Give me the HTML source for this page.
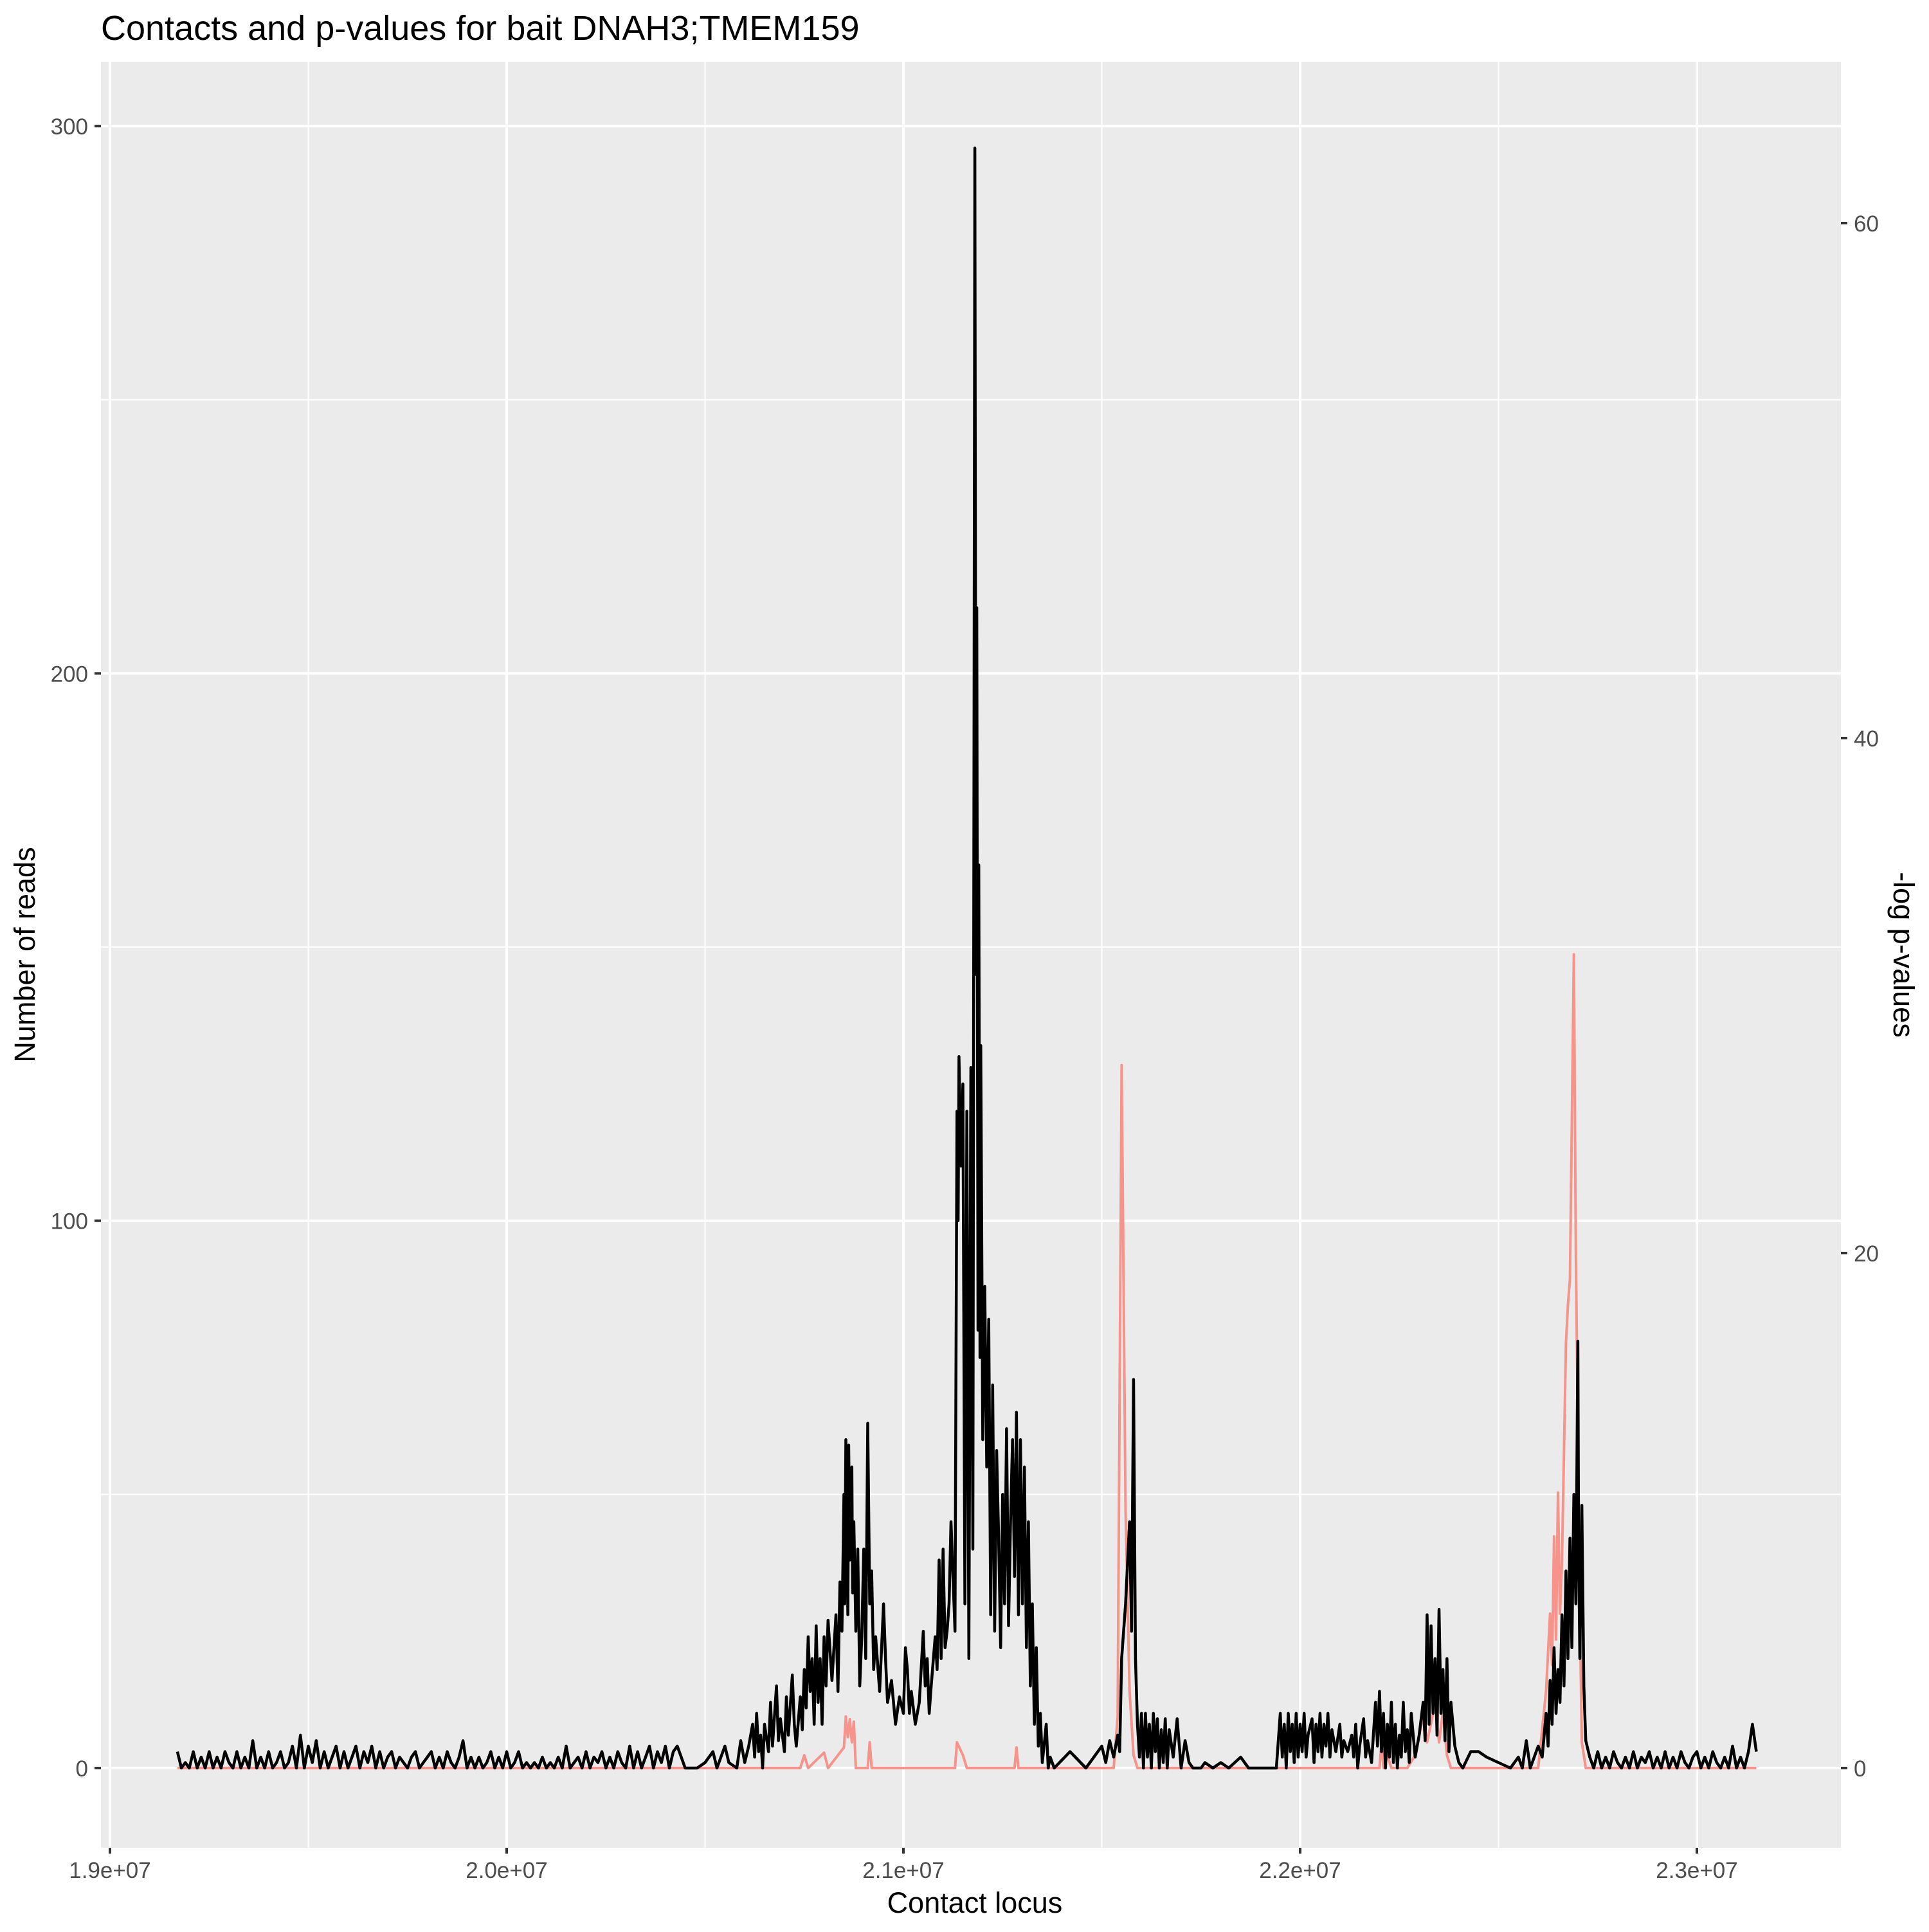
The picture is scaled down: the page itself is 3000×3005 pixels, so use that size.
<!DOCTYPE html>
<html><head><meta charset="utf-8"><style>
body{margin:0;background:#fff}
svg text{font-family:"Liberation Sans",sans-serif}
</style></head><body>
<svg id="chart" xmlns="http://www.w3.org/2000/svg" width="3000" height="3000" viewBox="0 0 3000 3000">
<rect width="3000" height="3000" fill="#fff"/>
<rect x="157" y="96" width="2706" height="2778" fill="#ebebeb"/>
<g id="grid"></g>
<g id="series"></g>
<g id="axes"></g>
<text x="157" y="62" font-size="54" fill="#000">Contacts and p-values for bait DNAH3;TMEM159</text>
<text x="1516" y="2975" font-size="45" text-anchor="middle" fill="#000">Contact locus</text>
<text transform="translate(54,1485) rotate(-90)" font-size="45" text-anchor="middle" fill="#000">Number of reads</text>
<text transform="translate(2945,1485) rotate(90)" font-size="45" text-anchor="middle" fill="#000">-log p-values</text>
</svg>
<script>
const xTicks=[19,20,21,22,23];
const xTickLabels=["1.9e+07","2.0e+07","2.1e+07","2.2e+07","2.3e+07"];
const yTicks=[0,100,200,300];
const y2Ticks=[0,20,40,60];
const readLoci=[19.17,19.18,19.19,19.20,19.21,19.22,19.23,19.24,19.25,19.26,19.27,19.28,19.29,19.30,19.31,19.32,19.33,19.34,19.35,19.36,19.37,19.38,19.39,19.40,19.41,19.42,19.43,19.44,19.45,19.46,19.47,19.48,19.49,19.50,19.51,19.52,19.53,19.54,19.55,19.56,19.57,19.58,19.59,19.60,19.61,19.62,19.63,19.64,19.65,19.66,19.67,19.68,19.69,19.70,19.71,19.72,19.73,19.74,19.75,19.76,19.77,19.78,19.79,19.80,19.81,19.82,19.83,19.84,19.85,19.86,19.87,19.88,19.89,19.90,19.91,19.92,19.93,19.94,19.95,19.96,19.97,19.98,19.99,20.00,20.01,20.02,20.03,20.04,20.05,20.06,20.07,20.08,20.09,20.10,20.11,20.12,20.13,20.14,20.15,20.16,20.17,20.18,20.19,20.20,20.21,20.22,20.23,20.24,20.25,20.26,20.27,20.28,20.29,20.30,20.31,20.32,20.33,20.34,20.35,20.36,20.37,20.38,20.39,20.40,20.41,20.42,20.43,20.44,20.45,
20.48,20.50,20.52,20.53,20.55,20.56,20.58,20.59,20.60,20.61,20.62,20.625,20.63,20.635,20.64,20.645,20.65,20.66,20.665,20.67,20.68,20.685,20.69,20.70,20.705,20.71,20.72,20.725,20.73,20.74,20.745,20.75,20.755,20.76,20.765,20.77,20.775,20.78,20.785,20.79,20.795,20.80,20.805,20.81,20.82,20.83,20.835,20.84,20.845,20.85,20.852,20.855,20.86,20.862,20.865,20.87,20.872,20.875,20.88,20.885,20.89,20.895,20.90,20.905,20.91,20.915,20.92,20.925,20.93,20.94,20.95,20.955,20.96,20.97,20.98,20.99,21.00,21.005,21.01,21.015,21.02,21.03,21.04,21.05,21.055,21.06,21.065,21.07,21.08,21.085,21.09,21.095,21.10,21.105,21.11,21.115,21.12,21.125,21.13,21.135,21.138,21.14,21.145,21.15,21.155,21.16,21.165,21.17,21.175,21.18,21.183,21.185,21.188,21.19,21.193,21.195,21.20,21.205,21.21,21.215,21.22,21.225,21.23,21.235,21.24,21.245,21.25,21.255,21.26,21.265,21.27,21.275,21.28,21.285,21.29,21.295,21.30,21.305,21.31,21.315,21.32,21.325,21.33,21.335,21.34,21.345,21.35,21.36,21.365,21.37,21.38,21.42,21.46,21.48,21.50,21.51,21.52,21.53,21.54,21.545,21.55,21.56,21.57,21.575,21.58,21.585,21.59,21.595,21.60,21.605,21.61,21.615,21.62,21.625,21.63,21.635,21.64,21.645,21.65,21.655,21.66,21.665,21.67,21.68,21.69,21.70,21.71,21.72,21.73,21.75,21.76,21.78,21.80,21.82,21.85,21.87,21.90,21.94,
21.95,21.955,21.96,21.965,21.97,21.975,21.98,21.985,21.99,21.995,22.00,22.005,22.01,22.015,22.02,22.03,22.035,22.04,22.045,22.05,22.055,22.06,22.065,22.07,22.075,22.08,22.09,22.10,22.105,22.11,22.12,22.13,22.135,22.14,22.145,22.15,22.16,22.165,22.17,22.18,22.19,22.195,22.20,22.205,22.21,22.215,22.22,22.225,22.23,22.235,22.24,22.245,22.25,22.255,22.26,22.265,22.27,22.275,22.28,22.29,22.30,22.31,22.315,22.32,22.325,22.33,22.335,22.34,22.345,22.35,22.355,22.36,22.365,22.37,22.375,22.38,22.39,22.40,22.41,22.43,22.45,22.47,22.50,22.53,22.55,22.56,22.57,22.58,22.60,22.61,22.62,22.625,22.63,22.635,22.64,22.645,22.65,22.655,22.66,22.665,22.67,22.675,22.68,22.685,22.69,22.695,22.70,22.702,22.705,22.71,22.715,22.72,22.73,22.74,
22.75,22.76,22.77,22.78,22.79,22.80,22.81,22.82,22.83,22.84,22.85,22.86,22.87,22.88,22.89,22.90,22.91,22.92,22.93,22.94,22.95,22.96,22.97,22.98,22.99,23.00,23.01,23.02,23.03,23.04,23.05,23.06,23.07,23.08,23.09,23.10,23.11,23.12,23.13,23.14,23.15];
const readCounts=[3,0,1,0,3,0,2,0,3,0,2,0,3,1,0,3,0,2,0,5,0,2,0,3,0,1,3,0,1,4,0,6,0,4,1,5,0,3,0,2,4,0,3,0,2,4,0,3,1,4,0,3,0,2,3,0,2,1,0,2,3,0,1,2,3,0,2,0,3,1,0,2,5,0,2,0,2,0,1,3,0,2,0,3,0,1,3,0,1,0,1,0,2,0,1,0,2,0,4,0,1,2,0,3,0,2,1,3,0,2,0,3,1,0,4,0,3,0,2,4,0,3,1,4,0,3,4,2,0,
0,1,3,0,4,1,0,5,1,4,8,2,10,3,6,0,8,3,12,4,15,5,9,3,13,6,17,8,4,13,7,18,11,24,14,20,8,26,12,20,8,24,15,27,16,28,14,34,25,50,30,60,28,59,38,55,32,45,25,40,15,24,40,20,63,30,36,18,24,14,30,20,12,16,8,13,10,22,18,10,14,8,12,25,15,20,10,15,24,18,38,20,40,22,25,30,45,35,25,120,100,130,110,125,30,120,20,128,40,296,145,212,80,165,75,132,60,88,55,82,28,70,25,58,42,22,50,30,62,26,45,60,35,65,28,60,30,55,22,45,15,30,8,22,4,10,1,8,0,2,0,3,0,2,4,1,5,2,6,3,20,30,45,25,71,20,8,2,10,0,10,2,8,0,10,3,9,0,7,1,9,0,7,2,9,0,5,1,0,0,1,0,1,0,2,0,0,0,
10,2,8,0,10,3,8,1,10,2,8,3,10,2,6,9,1,8,3,10,2,8,4,10,2,7,3,8,2,5,3,6,2,8,0,4,9,2,5,1,12,4,14,3,10,0,8,2,12,1,8,0,6,2,12,3,7,1,10,2,6,12,5,28,8,26,10,20,6,29,10,18,5,20,3,12,4,1,0,3,3,2,1,0,2,0,5,0,4,2,10,4,16,8,22,10,18,12,28,15,36,20,42,22,50,30,78,40,20,48,15,5,2,0,
3,0,2,0,3,1,0,2,0,3,0,2,1,3,0,2,0,3,0,2,0,3,1,0,2,3,0,2,0,3,1,0,2,0,4,0,2,0,3,8,3];
const pLoci=[19.17,20.74,20.75,20.76,20.80,20.81,20.85,20.855,20.86,20.865,20.87,20.875,20.88,20.91,20.915,20.92,21.13,21.135,21.15,21.16,21.28,21.285,21.29,21.53,21.54,21.55,21.56,21.57,21.58,21.59,22.20,22.205,22.21,22.22,22.23,22.27,22.29,22.31,22.32,22.34,22.35,22.36,22.37,22.38,22.60,22.62,22.63,22.635,22.64,22.645,22.65,22.655,22.66,22.67,22.675,22.68,22.69,22.695,22.70,22.705,22.71,22.72,23.15];
const pValues=[0,0,0.5,0,0.6,0,0.8,2,1.2,1.9,1,1.8,0,0,1,0,0,1,0.5,0,0,0.8,0,0,2,27.3,10,3,0.5,0,0,1,0,0.5,0,0,0.5,2,1,2.5,1,2.2,0.5,0,0,3,6,4,9,5,10.7,6,8,16.5,18,19,31.6,20,13,6,1,0,0];

const NS="http://www.w3.org/2000/svg";
const PL=157,PR=2863,PT=96,PB=2874;
const xs=v=>171+(v-19)*617;
const ys=v=>2750-v*8.513;
const ys2=v=>2750-v*40.05;
function mk(tag,attrs,parent){const e=document.createElementNS(NS,tag);for(const k in attrs)e.setAttribute(k,attrs[k]);parent.appendChild(e);return e;}
const grid=document.getElementById('grid'),axes=document.getElementById('axes'),series=document.getElementById('series');
[19.5,20.5,21.5,22.5].forEach(v=>{const l=mk('line',{x1:xs(v),x2:xs(v),y1:PT,y2:PB,stroke:'#fff','stroke-width':2},grid);

});
[50,150,250].forEach(v=>{const l=mk('line',{x1:PL,x2:PR,y1:ys(v),y2:ys(v),stroke:'#fff','stroke-width':2},grid);

});
xTicks.forEach((v,i)=>{const l=mk('line',{x1:xs(v),x2:xs(v),y1:PT,y2:PB,stroke:'#fff','stroke-width':4},grid);


const t=mk('line',{x1:xs(v),x2:xs(v),y1:PB,y2:PB+9,stroke:'#333','stroke-width':4},axes);


const tx=mk('text',{x:xs(v),y:PB+47,'font-size':35,'text-anchor':'middle',fill:'#4d4d4d'},axes);tx.textContent=xTickLabels[i];

});
yTicks.forEach(v=>{const l=mk('line',{x1:PL,x2:PR,y1:ys(v),y2:ys(v),stroke:'#fff','stroke-width':4},grid);


const t=mk('line',{x1:PL-10,x2:PL,y1:ys(v),y2:ys(v),stroke:'#333','stroke-width':4},axes);


const tx=mk('text',{x:PL-20,y:ys(v)+13,'font-size':35,'text-anchor':'end',fill:'#4d4d4d'},axes);tx.textContent=v;

});
y2Ticks.forEach(v=>{const t=mk('line',{x1:PR,x2:PR+10,y1:ys2(v),y2:ys2(v),stroke:'#333','stroke-width':4},axes);


const tx=mk('text',{x:PR+20,y:ys2(v)+13,'font-size':35,'text-anchor':'start',fill:'#4d4d4d'},axes);tx.textContent=v;

});
const pPts=pLoci.map((v,i)=>xs(v).toFixed(1)+','+ys2(pValues[i]).toFixed(1)).join(' ');
const pl=mk('polyline',{points:pPts,fill:'none',stroke:'#f6938b','stroke-width':4,'stroke-linejoin':'round'},series);


const rPts=readLoci.map((v,i)=>xs(v).toFixed(1)+','+ys(readCounts[i]).toFixed(1)).join(' ');
const rl=mk('polyline',{points:rPts,fill:'none',stroke:'#000','stroke-width':4.5,'stroke-linejoin':'round'},series);


</script>
</body></html>
